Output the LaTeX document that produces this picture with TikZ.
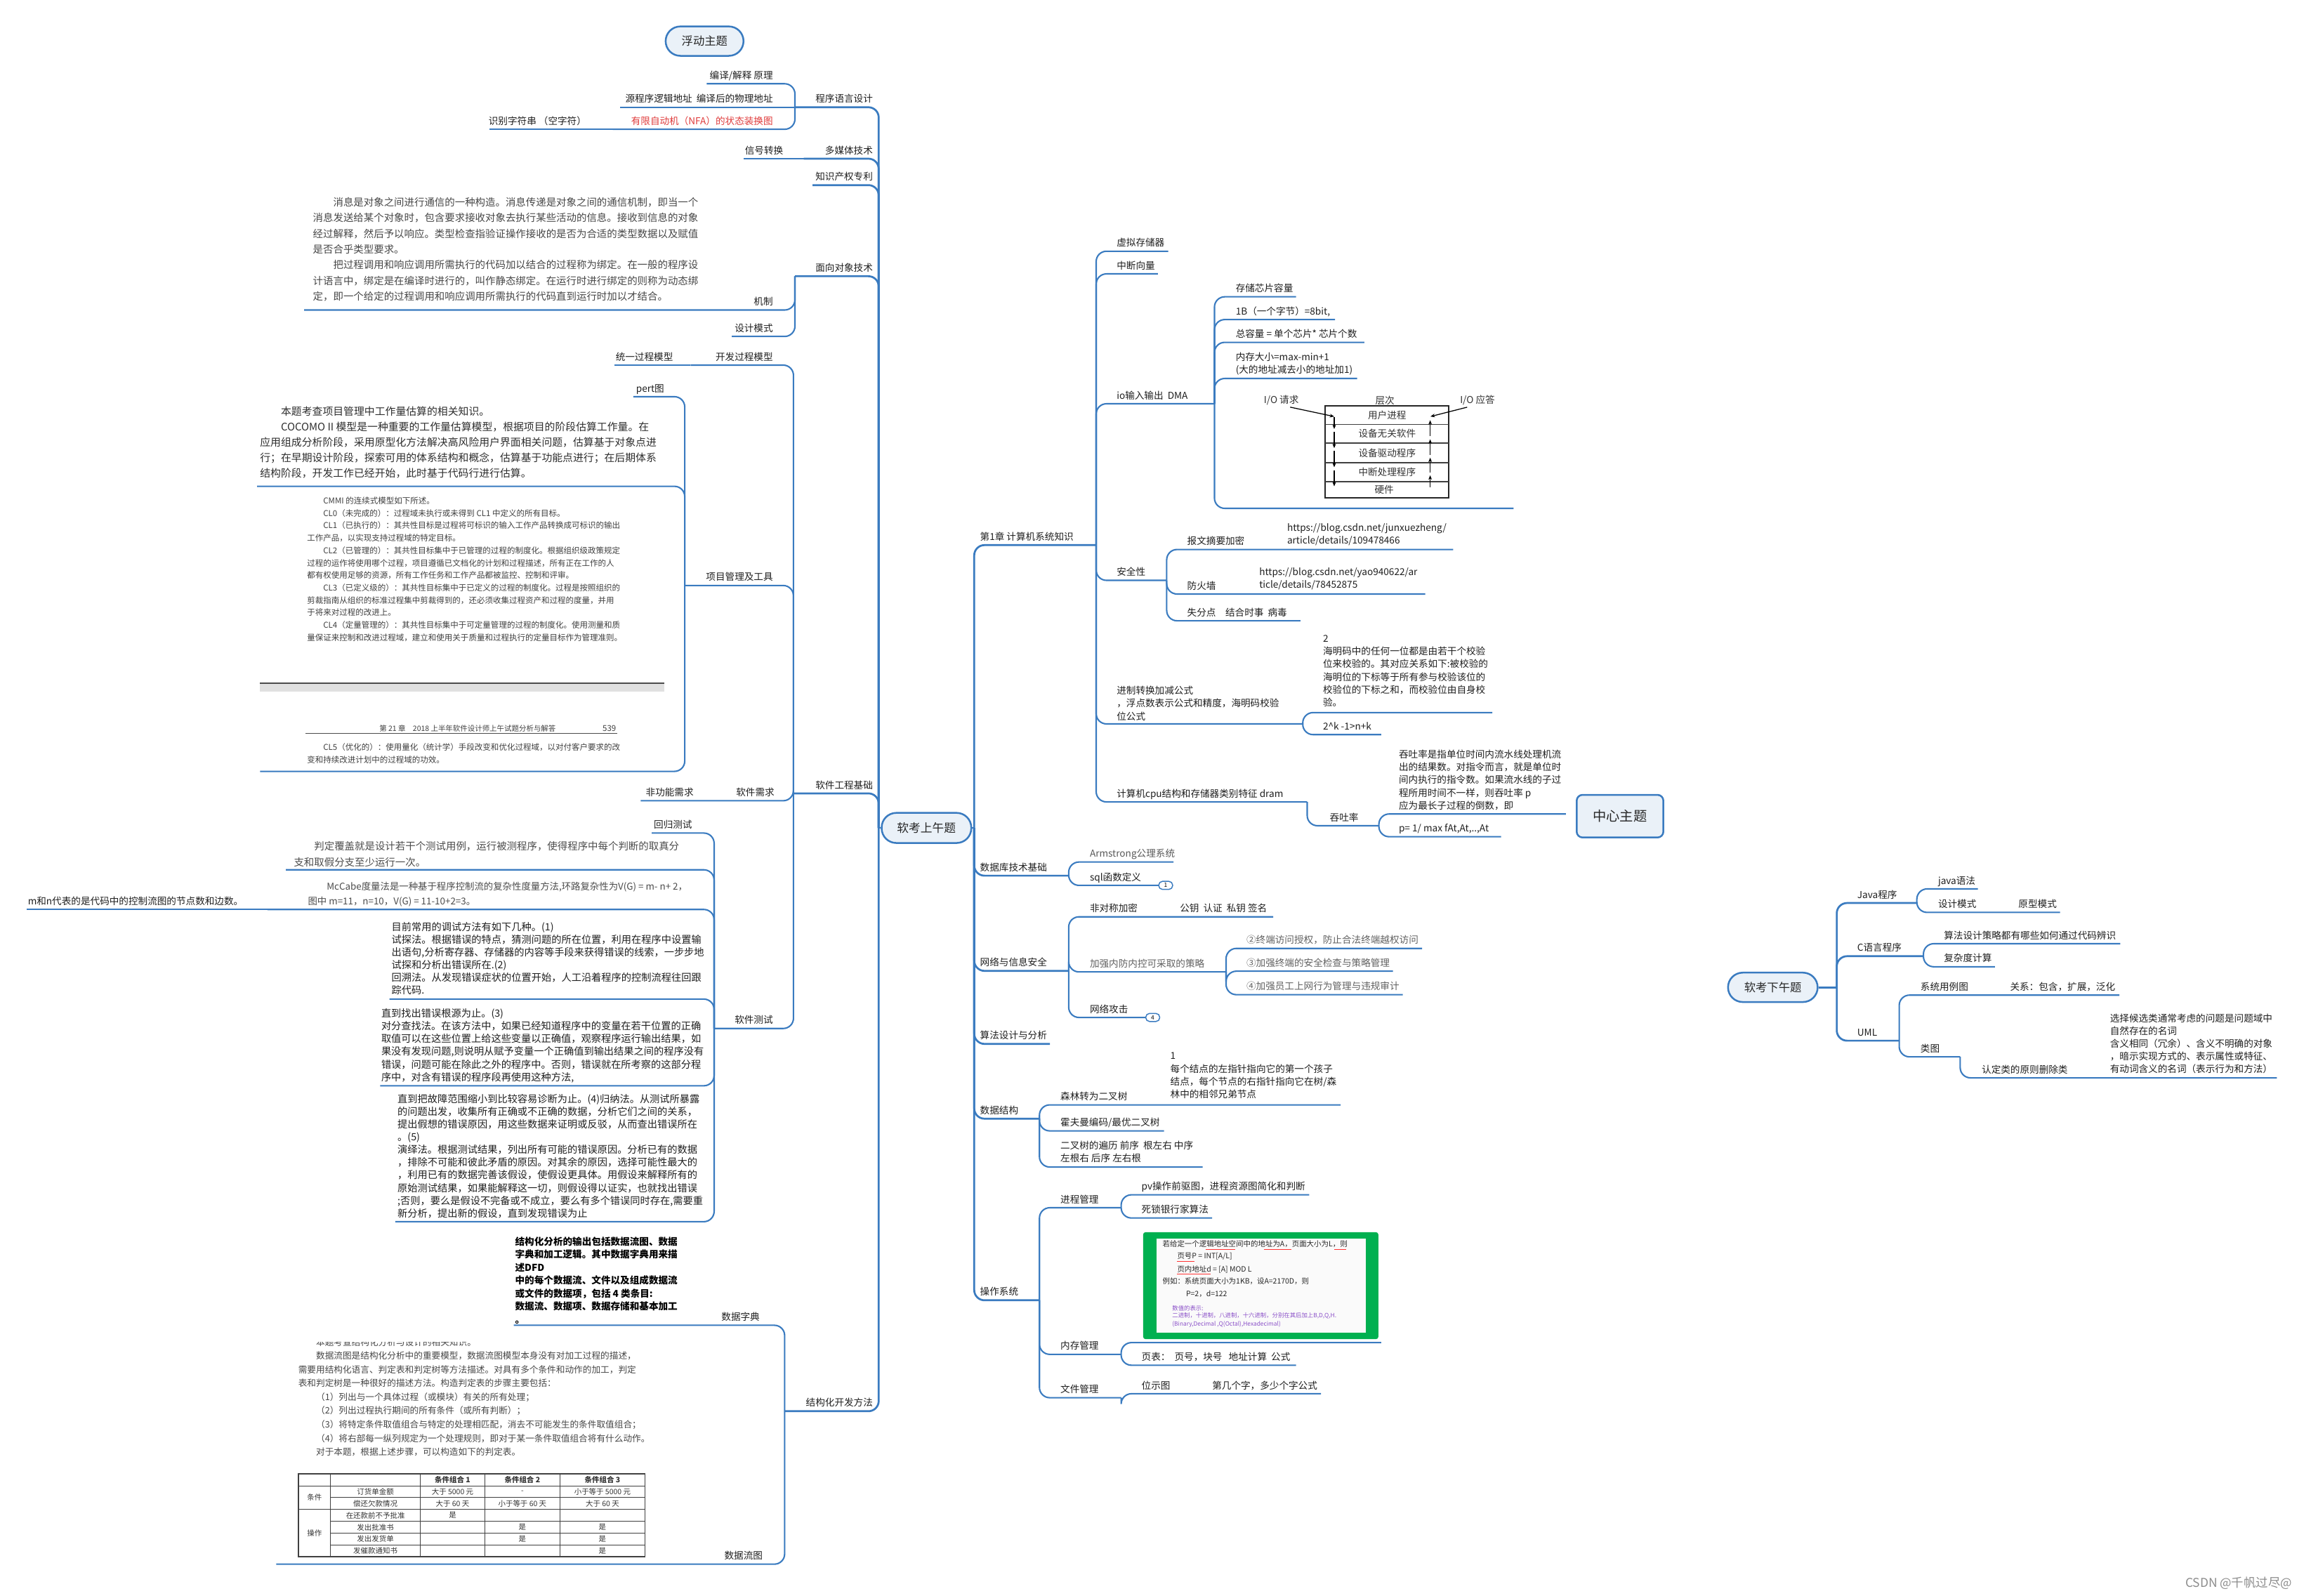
\documentclass[tikz,border=0pt]{standalone}
\usepackage{fontspec}
\setmainfont{Noto Sans CJK SC}
\usetikzlibrary{arrows.meta}
\definecolor{lblue}{HTML}{3A7BC0}
\definecolor{tfill}{HTML}{EAF1F8}
\definecolor{ggreen}{HTML}{00B050}
\definecolor{nfared}{HTML}{E03C3C}
\definecolor{purp}{HTML}{8A4FC8}
\tikzset{
 ln/.style={draw=lblue,line width=1pt,rounded corners=7pt},
 tk/.style={draw=lblue,line width=1.3pt,rounded corners=7pt},
 lbl/.style={inner sep=0pt,outer sep=0pt,font=\fontsize{6.5}{8.7}\selectfont,text=black!88,align=left},
 para/.style={inner sep=0pt,outer sep=0pt,align=left,anchor=north west,text=black!88,font=\fontsize{6.6}{8.7}\selectfont},
 topic/.style={draw=lblue,fill=tfill,line width=1.2pt,rounded corners=10pt,inner sep=0pt,text=black!85},
 badge/.style={draw=lblue,fill=white,line width=0.7pt,rounded corners=2.6pt,minimum width=9.5pt,minimum height=5.5pt,inner sep=0pt,font=\fontsize{4}{4}\selectfont},
 tcell/.style={inner sep=0pt,font=\fontsize{5}{5}\selectfont,text=black!80},
 tbl/.style={draw=black!75,line width=0.5pt},
 gtxt/.style={inner sep=0pt,anchor=west,font=\fontsize{5}{5}\selectfont,text=black!85},
 ptxt/.style={inner sep=0pt,anchor=west,font=\fontsize{4}{4}\selectfont,text=purp},
 iot/.style={inner sep=0pt,font=\fontsize{6.5}{7}\selectfont,text=black!80},
 ioa/.style={-{Stealth[length=3pt,width=2.4pt]},line width=0.6pt,black}
}
\newcommand\br[5][ln]{\coordinate (#2) at (#3,#4);\draw[#1] (#5) |- (#2);}
\newcommand\bs[5][ln]{\coordinate (#2) at (#3,#4);\draw[#1] (#5) -- (#2);}
\newcommand\rlab[4]{\node[lbl,anchor=base west] (#1) at (#2,#3-3.3) {#4};}
\newcommand\llab[4]{\node[lbl,anchor=base east] (#1) at (#2,#3-3.3) {#4};}
\begin{document}
\begin{tikzpicture}[x=1pt,y=-1pt]
\useasboundingbox (0,0) rectangle (1568,1086);
\fill[white] (0,0) rectangle (1568,1086);

% ---------------- topics
\node[topic,minimum width=53pt,minimum height=20pt,font=\fontsize{7.8}{8}\selectfont] (float) at (479.5,28) {浮动主题};
\node[topic,minimum width=61pt,minimum height=20.5pt,font=\fontsize{8}{9}\selectfont] (c) at (630.5,563.5) {软考上午题};
\node[topic,rounded corners=4pt,minimum width=59pt,minimum height=29pt,font=\fontsize{9.2}{10}\selectfont] (zx) at (1102.5,555.5) {中心主题};
\node[topic,minimum width=61pt,minimum height=20pt,font=\fontsize{7.8}{9}\selectfont] (pm) at (1206.5,672) {软考下午题};

\coordinate (LJ) at (598,563.5);
\coordinate (RJ) at (663,563.5);
\draw[tk] (c.west) -- (LJ);
\draw[tk] (c.east) -- (RJ);

% ================= LEFT SIDE
\br[tk]{pl}{541}{73}{LJ}
\br[tk]{mm}{547}{108}{LJ}
\br[tk]{zs}{553}{126}{LJ}
\br[tk]{oo}{541}{188}{LJ}
\br[tk]{se}{540}{540}{LJ}
\br[tk]{sd}{534}{960.5}{LJ}
\llab{t-pl}{594}{73}{程序语言设计}
\llab{t-mm}{594}{108}{多媒体技术}
\llab{t-zs}{594}{126}{知识产权专利}
\llab{t-oo}{594}{188}{面向对象技术}
\llab{t-se}{594}{540}{软件工程基础}
\llab{t-sd}{594}{960.5}{结构化开发方法}

% 程序语言设计
\br{byjs}{481}{57}{pl}
\bs{srca}{422}{73}{pl}
\br{nfa}{417}{88}{pl}
\bs{sbzf}{333}{88}{nfa}
\llab{t-byjs}{526}{57}{编译/解释 原理}
\llab{t-srca}{526}{73}{源程序逻辑地址\ \ 编译后的物理地址}
\node[lbl,anchor=base east,text=nfared] (t-nfa) at (526,88-3.3) {有限自动机（NFA）的状态装换图};
\llab{t-sbzf}{399}{88}{识别字符串 （空字符）}
% 多媒体
\bs{xhzh}{506}{108}{mm}
\llab{t-xhzh}{533}{108}{信号转换}
% 面向对象
\br{jz}{207}{211}{oo}
\br{sjms}{498}{229}{oo}
\llab{t-jz}{526}{211}{机制}
\llab{t-sjms}{526}{229}{设计模式}
\node[para,text=black!72,font=\fontsize{6.9}{10.65}\selectfont] (p-msg) at (213,134.5) {\hspace*{2em}消息是对象之间进行通信的一种构造。消息传递是对象之间的通信机制，即当一个\\
消息发送给某个对象时，包含要求接收对象去执行某些活动的信息。接收到信息的对象\\
经过解释，然后予以响应。类型检查指验证操作接收的是否为合适的类型数据以及赋值\\
是否合乎类型要求。\\
\hspace*{2em}把过程调用和响应调用所需执行的代码加以结合的过程称为绑定。在一般的程序设\\
计语言中，绑定是在编译时进行的，叫作静态绑定。在运行时进行绑定的则称为动态绑\\
定，即一个给定的过程调用和响应调用所需执行的代码直到运行时加以才结合。};

% 软件工程基础
\br{kfgc}{470}{248.5}{se}
\bs{tygc}{418}{248.5}{kfgc}
\br{xmgl}{466}{398.5}{se}
\br{rjxq}{436}{545}{se}
\br{rjcs}{486}{700}{se}
\llab{t-kfgc}{526}{248.5}{开发过程模型}
\llab{t-tygc}{458}{248.5}{统一过程模型}
\llab{t-xmgl}{526}{398.5}{项目管理及工具}
\llab{t-rjxq}{527}{545}{软件需求}
\llab{t-fgn}{472}{545}{非功能需求}
\llab{t-rjcs}{526}{700}{软件测试}
% 项目管理及工具
\br{pert}{431}{270}{xmgl}
\br{cocomo}{175}{331}{xmgl}
\br{cmmi}{177}{525}{xmgl}
\llab{t-pert}{452}{270}{pert图}
\node[para,text=black!82,font=\fontsize{7.1}{10.5}\selectfont] (p-coc) at (177,276.5) {\hspace*{2em}本题考查项目管理中工作量估算的相关知识。\\
\hspace*{2em}COCOMO II 模型是一种重要的工作量估算模型，根据项目的阶段估算工作量。在\\
应用组成分析阶段，采用原型化方法解决高风险用户界面相关问题，估算基于对象点进\\
行；在早期设计阶段，探索可用的体系结构和概念，估算基于功能点进行；在后期体系\\
结构阶段，开发工作已经开始，此时基于代码行进行估算。};
\node[para,text=black!75,font=\fontsize{5.5}{8.45}\selectfont] (p-cmmi) at (209,338.3) {\hspace*{2em}CMMI 的连续式模型如下所述。\\
\hspace*{2em}CL0（未完成的）：过程域未执行或未得到 CL1 中定义的所有目标。\\
\hspace*{2em}CL1（已执行的）：其共性目标是过程将可标识的输入工作产品转换成可标识的输出\\
工作产品，以实现支持过程域的特定目标。\\
\hspace*{2em}CL2（已管理的）：其共性目标集中于已管理的过程的制度化。根据组织级政策规定\\
过程的运作将使用哪个过程，项目遵循已文档化的计划和过程描述，所有正在工作的人\\
都有权使用足够的资源，所有工作任务和工作产品都被监控、控制和评审。\\
\hspace*{2em}CL3（已定义级的）：其共性目标集中于已定义的过程的制度化。过程是按照组织的\\
剪裁指南从组织的标准过程集中剪裁得到的，还必须收集过程资产和过程的度量，并用\\
于将来对过程的改进上。\\
\hspace*{2em}CL4（定量管理的）：其共性目标集中于可定量管理的过程的制度化。使用测量和质\\
量保证来控制和改进过程域，建立和使用关于质量和过程执行的定量目标作为管理准则。};
\fill[black!12] (177,465) rectangle (452,470.5);
\draw[black!70,line width=0.7pt] (177,465) -- (452,465);
\node[inner sep=0pt,font=\fontsize{5}{5}\selectfont,text=black!75,anchor=base west] (p-hdr) at (258,497.5) {第 21 章\quad 2018 上半年软件设计师上午试题分析与解答};
\node[inner sep=0pt,font=\fontsize{5.5}{5}\selectfont,text=black!75,anchor=base east] (p-pg) at (419.5,497.5) {539};
\draw[black!70,line width=0.5pt] (208,499.3) -- (420,499.3);
\node[para,text=black!75,font=\fontsize{5.5}{8.5}\selectfont] (p-cl5) at (209,505.8) {\hspace*{2em}CL5（优化的）：使用量化（统计学）手段改变和优化过程域，以对付客户要求的改\\
变和持续改进计划中的过程域的功效。};

% 软件测试
\br{hgcs}{443.5}{567}{rjcs}
\br{pdfg}{194.6}{592}{rjcs}
\br{mcc}{182}{619}{rjcs}
\bs{mn}{18}{619}{mcc}
\br{ts1}{265}{680}{rjcs}
\br{ts2}{258.7}{739}{rjcs}
\br{ts3}{269}{831.5}{rjcs}
\llab{t-hgcs}{471}{567}{回归测试}
\node[para,text=black!70,font=\fontsize{6.9}{11}\selectfont] (p-pdfg) at (200,572.5) {\hspace*{2em}判定覆盖就是设计若干个测试用例，运行被测程序，使得程序中每个判断的取真分\\
支和取假分支至少运行一次。};
\node[para,text=black!70,font=\fontsize{6.4}{10.1}\selectfont] (p-mcc) at (209.6,600.3) {\hspace*{2em}McCabe度量法是一种基于程序控制流的复杂性度量方法,环路复杂性为V(G) = m- n+ 2，\\
图中 m=11，n=10，V(G) = 11-10+2=3。};
\rlab{t-mn}{19}{619}{m和n代表的是代码中的控制流图的节点数和边数。}
\node[para,font=\fontsize{6.8}{8.65}\selectfont] (p-ts1) at (266.5,627.6) {目前常用的调试方法有如下几种。(1)\\
试探法。根据错误的特点，猜测问题的所在位置，利用在程序中设置输\\
出语句,分析寄存器、存储器的内容等手段来获得错误的线索，一步步地\\
试探和分析出错误所在.(2)\\
回溯法。从发现错误症状的位置开始，人工沿着程序的控制流程往回跟\\
踪代码.};
\node[para,font=\fontsize{6.8}{8.65}\selectfont] (p-ts2) at (259.5,686.6) {直到找出错误根源为止。(3)\\
对分查找法。在该方法中，如果已经知道程序中的变量在若干位置的正确\\
取值可以在这些位置上给这些变量以正确值，观察程序运行输出结果，如\\
果没有发现问题,则说明从赋予变量一个正确值到输出结果之间的程序没有\\
错误，问题可能在除此之外的程序中。否则，错误就在所考察的这部分程\\
序中，对含有错误的程序段再使用这种方法,};
\node[para,font=\fontsize{6.8}{8.67}\selectfont] (p-ts3) at (270.6,744.6) {直到把故障范围缩小到比较容易诊断为止。(4)归纳法。从测试所暴露\\
的问题出发，收集所有正确或不正确的数据，分析它们之间的关系，\\
提出假想的错误原因，用这些数据来证明或反驳，从而查出错误所在\\
。(5)\\
演绎法。根据测试结果，列出所有可能的错误原因。分析已有的数据\\
，排除不可能和彼此矛盾的原因。对其余的原因，选择可能性最大的\\
，利用已有的数据完善该假设，使假设更具体。用假设来解释所有的\\
原始测试结果，如果能解释这一切，则假设得以证实，也就找出错误\\
;否则，要么是假设不完备或不成立，要么有多个错误同时存在,需要重\\
新分析，提出新的假设，直到发现错误为止};

% 结构化开发方法
\br{sjzd}{349.6}{902}{sd}
\br{sjlt}{188}{1064.6}{sd}
\llab{t-sjzd}{517}{902}{数据字典}
\llab{t-sjlt}{519}{1064.6}{数据流图}
\node[para,font=\fontsize{6.5}{8.83}\selectfont\bfseries,text=black] (p-sjzd) at (350.6,841.8) {结构化分析的输出包括数据流图、数据\\
字典和加工逻辑。其中数据字典用来描\\
述DFD\\
中的每个数据流、文件以及组成数据流\\
或文件的数据项，包括 4 类条目:\\
数据流、数据项、数据存储和基本加工\\
。};
\begin{scope}
\clip (180,913.3) rectangle (450,1000);
\node[para,text=black!72,font=\fontsize{6.05}{9.35}\selectfont] (p-sjlt) at (203,910.6) {\hspace*{2em}本题考查结构化分析与设计的相关知识。\\
\hspace*{2em}数据流图是结构化分析中的重要模型，数据流图模型本身没有对加工过程的描述，\\
需要用结构化语言、判定表和判定树等方法描述。对具有多个条件和动作的加工，判定\\
表和判定树是一种很好的描述方法。构造判定表的步骤主要包括：\\
\hspace*{2em}（1）列出与一个具体过程（或模块）有关的所有处理；\\
\hspace*{2em}（2）列出过程执行期间的所有条件（或所有判断）；\\
\hspace*{2em}（3）将特定条件取值组合与特定的处理相匹配，消去不可能发生的条件取值组合；\\
\hspace*{2em}（4）将右部每一纵列规定为一个处理规则，即对于某一条件取值组合将有什么动作。\\
\hspace*{2em}对于本题，根据上述步骤，可以构造如下的判定表。};
\end{scope}
% decision table
\draw[tbl,line width=0.8pt] (203,1003) rectangle (439,1059.4);
\foreach \yy in {1011.3,1027.3} \draw[tbl] (203,\yy) -- (439,\yy);
\foreach \yy in {1019.2,1035.4,1043.5,1051.6} \draw[tbl] (225,\yy) -- (439,\yy);
\foreach \xx in {225,286,330,381} \draw[tbl] (\xx,1003) -- (\xx,1059.4);
\foreach \xx/\yy/\ct [count=\i] in {308/1007.2/{\textbf{条件组合 1}},355.5/1007.2/{\textbf{条件组合 2}},410/1007.2/{\textbf{条件组合 3}},
 214/1019.3/条件,255.5/1015.25/订货单金额,308/1015.25/{大于 5000 元},355.5/1015.25/-,410/1015.25/{小于等于 5000 元},
 255.5/1023.25/偿还欠款情况,308/1023.25/{大于 60 天},355.5/1023.25/{小于等于 60 天},410/1023.25/{大于 60 天},
 214/1043.35/操作,255.5/1031.35/在还款前不予批准,308/1031.35/是,
 255.5/1039.45/发出批准书,355.5/1039.45/是,410/1039.45/是,
 255.5/1047.55/发出发货单,355.5/1047.55/是,410/1047.55/是,
 255.5/1055.5/发催款通知书,410/1055.5/是}
 \node[tcell] (tc\i) at (\xx,\yy) {\ct};

% ================= RIGHT SIDE
\br[tk]{ch1}{746}{371}{RJ}
\br[tk]{db}{727.3}{596}{RJ}
\br[tk]{net}{727.3}{660.8}{RJ}
\br[tk]{alg}{714.5}{710.5}{RJ}
\br[tk]{ds}{707.4}{761.4}{RJ}
\br[tk]{os}{707.4}{885}{RJ}
\rlab{t-ch1}{667}{371}{第1章 计算机系统知识}
\rlab{t-db}{667}{596}{数据库技术基础}
\rlab{t-net}{667}{660.8}{网络与信息安全}
\rlab{t-alg}{667}{710.5}{算法设计与分析}
\rlab{t-ds}{667}{761.4}{数据结构}
\rlab{t-os}{667}{885}{操作系统}

% 第1章
\br{vm}{795}{171}{ch1}
\br{zd}{788}{186.4}{ch1}
\br{io}{826.5}{274.8}{ch1}
\br{aq}{794}{395}{ch1}
\br{jz2}{886.6}{492.7}{ch1}
\br{cpu}{889.6}{545.8}{ch1}
\rlab{t-vm}{760}{171}{虚拟存储器}
\rlab{t-zd}{760}{186.4}{中断向量}
\rlab{t-io}{760}{274.8}{io输入输出\ \ DMA}
\rlab{t-aq}{760}{395}{安全性}
\node[para,font=\fontsize{6.5}{8.75}\selectfont] (t-jz2) at (760,466.9) {进制转换加减公式\\
，浮点数表示公式和精度，海明码校验\\
位公式};
\rlab{t-cpu}{760}{545.8}{计算机cpu结构和存储器类别特征 dram}
% io
\br{ccxp}{882}{202}{io}
\br{byte}{908.6}{217.5}{io}
\br{zrl}{928.5}{233}{io}
\br{ncdx}{923.6}{257.6}{io}
\br{iod}{1030}{346}{io}
\rlab{t-ccxp}{841}{202}{存储芯片容量}
\rlab{t-byte}{841}{217.5}{1B（一个字节）=8bit,}
\rlab{t-zrl}{841}{233}{总容量 = 单个芯片* 芯片个数}
\node[para,font=\fontsize{6.5}{8.7}\selectfont] (t-ncdx) at (841,239.8) {内存大小=max-min+1\\
(大的地址减去小的地址加1)};
% io diagram
\draw[line width=0.9pt,black!85] (902,276.3) rectangle (985.7,338.8);
\foreach \yy in {288.9,301.4,315,327.7} \draw[line width=0.8pt,black!75] (902,\yy) -- (985.7,\yy);
\node[iot] (io-req) at (872,272.4) {I/O 请求};
\node[iot] (io-cc) at (942.5,272.4) {层次};
\node[iot] (io-ans) at (1005.5,272.4) {I/O 应答};
\node[iot] (io-r1) at (944,282.6) {用户进程};
\node[iot] (io-r2) at (944,295.2) {设备无关软件};
\node[iot] (io-r3) at (944,308.2) {设备驱动程序};
\node[iot] (io-r4) at (944,321.4) {中断处理程序};
\node[iot] (io-r5) at (942,333.3) {硬件};
\draw[ioa] (io-req.south east) ++(-6,1.2) coordinate (rq0) -- (908,283.5);
\draw[ioa] (io-ans.south west) ++(5,1.2) coordinate (an0) -- (973.5,283.5);
\draw[ioa] (908,284) -- (908,292);
\draw[ioa] (908,294) -- (908,305);
\draw[ioa] (908,307) -- (908,318);
\draw[ioa] (908,320) -- (908,331);
\draw[ioa] (973.3,331.5) -- (973.3,323.5);
\draw[ioa] (973.3,321.5) -- (973.3,311.5);
\draw[ioa] (973.3,309.5) -- (973.3,299);
\draw[ioa] (973.3,297) -- (973.3,286);
% 安全性
\br{bwzy}{989}{374}{aq}
\br{fhq}{970}{404.3}{aq}
\br{sfd}{885}{422.5}{aq}
\rlab{t-bwzy}{808}{374}{报文摘要加密}
\node[para,font=\fontsize{6.5}{8.5}\selectfont] (t-url1) at (876,356.4) {https://blog.csdn.net/junxuezheng/\\
article/details/109478466};
\rlab{t-fhq}{808}{404.3}{防火墙}
\node[para,font=\fontsize{6.5}{8.6}\selectfont] (t-url2) at (857,386.7) {https://blog.csdn.net/yao940622/ar\\
ticle/details/78452875};
\rlab{t-sfd}{808}{422.5}{失分点\quad 结合时事\ \ 病毒}
% 进制
\br{hmm}{1015.6}{485}{jz2}
\br{twok}{940}{500}{jz2}
\node[para,font=\fontsize{6.5}{8.66}\selectfont] (t-hmm) at (900.4,432.4) {2\\
海明码中的任何一位都是由若干个校验\\
位来校验的。其对应关系如下:被校验的\\
海明位的下标等于所有参与校验该位的\\
校验位的下标之和，而校验位由自身校\\
验。};
\rlab{t-twok}{900.4}{500}{2\textasciicircum k -1>n+k}
% cpu
\br{tt}{938.4}{562}{cpu}
\br{ttp}{1065.7}{554}{tt}
\br{pform}{1021.6}{569.5}{tt}
\rlab{t-tt}{905}{562}{吞吐率}
\node[para,font=\fontsize{6.5}{8.7}\selectfont] (t-ttp) at (952,510.4) {吞吐率是指单位时间内流水线处理机流\\
出的结果数。对指令而言，就是单位时\\
间内执行的指令数。如果流水线的子过\\
程所用时间不一样，则吞吐率 p\\
应为最长子过程的倒数，即};
\rlab{t-pform}{952}{569.5}{p= 1/ max fAt,At,..,At}

% 数据库
\br{arm}{798.6}{586.7}{db}
\br{sql}{788.5}{602.6}{db}
\node[lbl,anchor=base west,text=black!65] (t-arm) at (741.7,586.7-3.3) {Armstrong公理系统};
\rlab{t-sql}{741.7}{602.6}{sql函数定义}
\node[badge] (b1) at (793.3,602.6) {1};
% 网络
\br{fdc}{866.5}{624}{net}
\br{nfnk}{834.4}{661.5}{net}
\br{wlgj}{780}{692.5}{net}
\rlab{t-fdc}{741.7}{624}{非对称加密}
\rlab{t-gy}{803}{624}{公钥\ \ 认证\ \ 私钥 签名}
\node[lbl,anchor=base west,text=black!62] (t-nfnk) at (741.7,661.5-3.3) {加强内防内控可采取的策略};
\rlab{t-wlgj}{741.7}{692.5}{网络攻击}
\node[badge] (b4) at (784.5,692.5) {4};
\br{s2}{967.8}{645.5}{nfnk}
\br{s3}{948}{661}{nfnk}
\br{s4}{954.6}{677}{nfnk}
\node[lbl,anchor=base west,text=black!62] (t-s2) at (848.3,645.5-3.3) {②终端访问授权，防止合法终端越权访问};
\node[lbl,anchor=base west,text=black!62] (t-s3) at (848.3,661-3.3) {③加强终端的安全检查与策略管理};
\node[lbl,anchor=base west,text=black!62] (t-s4) at (848.3,677-3.3) {④加强员工上网行为管理与违规审计};

% 数据结构
\br{slzh}{912.4}{752}{ds}
\br{hfm}{792.2}{769.7}{ds}
\br{ecs}{818.5}{794.3}{ds}
\rlab{t-slzh}{721.7}{752}{森林转为二叉树}
\node[para,font=\fontsize{6.5}{8.75}\selectfont] (t-slzc) at (796.5,716.4) {1\\
每个结点的左指针指向它的第一个孩子\\
结点，每个节点的右指针指向它在树/森\\
林中的相邻兄弟节点};
\rlab{t-hfm}{721.7}{769.7}{霍夫曼编码/最优二叉树}
\node[para,font=\fontsize{6.5}{8.6}\selectfont] (t-ecs) at (721.7,776.7) {二叉树的遍历 前序\ \ 根左右 中序\\
左根右 后序 左右根};

% 操作系统
\br{jcgl}{763}{822}{os}
\br{ncgl}{763}{921.8}{os}
\br{wjgl}{763}{951.3}{os}
\rlab{t-jcgl}{721.7}{822}{进程管理}
\rlab{t-ncgl}{721.7}{921.8}{内存管理}
\rlab{t-wjgl}{721.7}{951.3}{文件管理}
\br{pv}{891}{813.2}{jcgl}
\br{ssyh}{824.9}{829}{jcgl}
\rlab{t-pv}{776.9}{813.2}{pv操作前驱图，进程资源图简化和判断}
\rlab{t-ssyh}{776.9}{829}{死锁银行家算法}
\br{gbox}{940}{913.8}{ncgl}
\br{yb}{882}{929.2}{ncgl}
\rlab{t-yb}{776.9}{929.2}{页表：\ \ 页号，块号\ \ \ 地址计算\ \ 公式}
\br{wst}{899}{948.6}{wjgl}
\rlab{t-wst}{776.9}{948.6}{位示图}
\rlab{t-wst2}{825}{948.6}{第几个字，多少个字公式}
% green box
\fill[ggreen,rounded corners=1.5pt] (778,838.7) rectangle (938,911.4);
\fill[black!2] (787,843) rectangle (929.4,907);
\node[gtxt] (g1) at (791,846.8) {若给定一个逻辑地址空间中的地址为A，页面大小为L，则};
\node[gtxt] (g2) at (801,855.3) {页号P = INT[A/L]};
\node[gtxt] (g3) at (801,863.8) {页内地址d = [A] MOD L};
\node[gtxt] (g4) at (791,872) {例如：系统页面大小为1KB，设A=2170D，则};
\node[gtxt] (g5) at (807,880.7) {P=2，d=122};
\node[ptxt] (g6) at (797.6,890.4) {数值的表示:};
\node[ptxt] (g7) at (797.6,895.6) {二进制，十进制，八进制，十六进制，分别在其后加上B,D,Q,H.};
\node[ptxt] (g8) at (797.6,901.3) {(Binary,Decimal ,Q(Octal),Hexadecimal)};
\draw[red!80,line width=0.4pt] (820.6,850.2) -- (840.4,850.2);
\draw[red!80,line width=0.4pt] (860,850.2) -- (879,850.2);
\draw[red!80,line width=0.4pt] (908,850.2) -- (916,850.2);
\draw[red!80,line width=0.4pt] (801,858.7) -- (813,858.7);
\draw[red!80,line width=0.4pt] (801,866.9) -- (824,866.9);

% ================= 软考下午题
\coordinate (PJ) at (1250,672);
\draw[tk] (pm.east) -- (PJ);
\br[tk]{java}{1304.5}{614.6}{PJ}
\br[tk]{clang}{1309}{650.8}{PJ}
\br[tk]{uml}{1292.5}{708.3}{PJ}
\rlab{t-java}{1264}{614.6}{Java程序}
\rlab{t-clang}{1264}{650.8}{C语言程序}
\rlab{t-uml}{1264}{708.3}{UML}
\br{jyf}{1346}{605}{java}
\br{jsj}{1402}{621}{java}
\rlab{t-jyf}{1319}{605}{java语法}
\rlab{t-jsj}{1319}{621}{设计模式}
\rlab{t-yxms}{1373.7}{621}{原型模式}
\br{sfcl}{1443}{642.3}{clang}
\br{fzd}{1357.7}{658}{clang}
\rlab{t-sfcl}{1323}{642.3}{算法设计策略都有哪些如何通过代码辨识}
\rlab{t-fzd}{1323}{658}{复杂度计算}
\br{xtyl}{1442.4}{677.3}{uml}
\br{lt}{1334}{719.3}{uml}
\rlab{t-xtyl}{1307}{677.3}{系统用例图}
\rlab{t-gx}{1368}{677.3}{关系：包含，扩展，泛化}
\rlab{t-lt}{1307}{719.3}{类图}
\br{rdl}{1549.5}{733.6}{lt}
\rlab{t-rdl}{1348.7}{733.6}{认定类的原则删除类}
\node[para,font=\fontsize{6.5}{8.68}\selectfont] (t-rdl2) at (1436,690) {选择候选类通常考虑的问题是问题域中\\
自然存在的名词\\
含义相同（冗余）、含义不明确的对象\\
，暗示实现方式的、表示属性或特征、\\
有动词含义的名词（表示行为和方法）};

% watermark
\node[inner sep=0pt,anchor=base east,text=black!45,font=\fontsize{8.3}{9}\selectfont] (wm) at (1560,1080.5) {CSDN @千帆过尽@};
\end{tikzpicture}
\end{document}
